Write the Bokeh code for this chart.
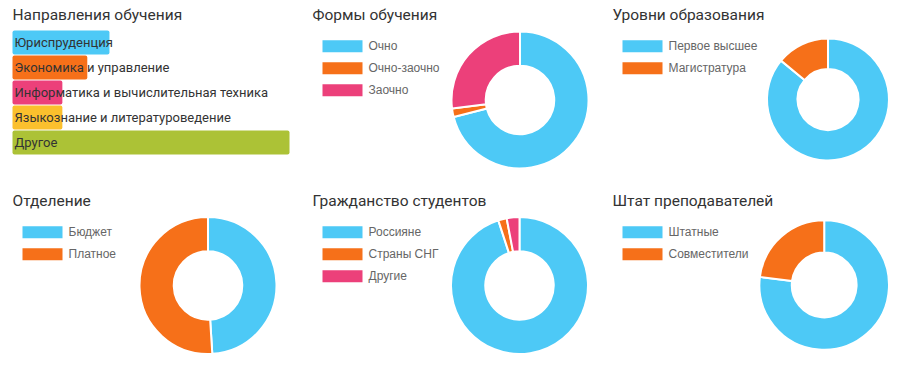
import math
from bokeh.plotting import figure
from bokeh.models import Range1d
from bokeh.layouts import column, row
from bokeh.embed import file_html
from bokeh.resources import INLINE
from bokeh.core.properties import value

BLUE = "#4DC9F6"
ORANGE = "#F67019"
PINK = "#EC407A"
YELLOW = "#FBC02D"
GREEN = "#ACC236"

# ---- data ----
dir_labels = ["Юриспруденция", "Экономика и управление",
              "Информатика и вычислительная техника",
              "Языкознание и литературоведение", "Другое"]
dir_values = [35, 27, 18, 18, 100]
dir_colors = [BLUE, ORANGE, PINK, YELLOW, GREEN]

forms_labels = ["Очно", "Очно-заочно", "Заочно"]
forms_values = [71, 2, 27]

levels_labels = ["Первое высшее", "Магистратура"]
levels_values = [86, 14]

dept_labels = ["Бюджет", "Платное"]
dept_values = [49, 51]

cit_labels = ["Россияне", "Страны СНГ", "Другие"]
cit_values = [95, 2, 3]

staff_labels = ["Штатные", "Совместители"]
staff_values = [77, 23]

pie_colors = [BLUE, ORANGE, PINK]

TITLE_FONT = value("Roboto")
TEXT_FONT = value("Liberation Sans")
TITLE_SIZE = "15.5px"


def base_fig(w, h, xr, yr):
    p = figure(width=w, height=h, x_range=xr, y_range=yr,
               output_backend="svg", toolbar_location=None,
               min_border=0, x_axis_location=None, y_axis_location=None,
               outline_line_color=None, tools="")
    p.grid.visible = False
    p.background_fill_color = "white"
    p.border_fill_color = "white"
    return p


def bar_panel(w, h, ox, oy, title_mid):
    scale = 2.77
    x0 = 4 + ox
    pitch = 25
    first = 34 + oy
    p = base_fig(w, h, Range1d(-x0 / scale, (w - x0) / scale),
                 Range1d((h - first) / pitch, -first / pitch))
    idx = list(range(len(dir_values)))
    p.hbar(y=idx, left=0, right=dir_values, height=24 / pitch,
           fill_color=dir_colors, line_color=None, border_radius=2)
    p.text(x=[0] * len(idx), y=idx, text=dir_labels, x_offset=2,
           text_baseline="middle", text_font=TITLE_FONT,
           text_font_size="13px", text_color="#333333")
    p.text(x=[0], y=[(title_mid + oy - first) / pitch], text=["Направления обучения"],
           text_baseline="middle", text_font=TITLE_FONT,
           text_font_size=TITLE_SIZE, text_color="#333333")
    return p


def donut_panel(w, h, ox, oy, title, labels, values, cx, cy_top, r,
                title_mid, leg_top):
    p = base_fig(w, h, Range1d(-ox, w - ox), Range1d(0, h))
    total = float(sum(values))
    starts, ends = [], []
    acc = 0.0
    for v in values:
        starts.append(math.pi / 2 - 2 * math.pi * acc / total)
        acc += v
        ends.append(math.pi / 2 - 2 * math.pi * acc / total)
    n = len(values)
    top = lambda t: h - (t + oy)
    p.annular_wedge(x=[cx] * n, y=[top(cy_top)] * n, inner_radius=(r + 1) * 0.5,
                    outer_radius=r + 1, start_angle=starts, end_angle=ends,
                    direction="clock", fill_color=pie_colors[:n],
                    line_color="white", line_width=2)
    ys = [top(leg_top + 22 * i) for i in range(n)]
    p.rect(x=[34] * n, y=ys, width=40, height=12, fill_color=pie_colors[:n],
           line_color=None)
    p.text(x=[60] * n, y=ys, text=labels, text_baseline="middle",
           text_font=TEXT_FONT, text_font_size="12px", text_color="#666666")
    p.text(x=[4], y=[top(title_mid)], text=[title], text_baseline="middle",
           text_font=TITLE_FONT, text_font_size=TITLE_SIZE, text_color="#333333")
    return p


# panel boxes in the window: columns start at x 0 / 308 / 608, rows at y 0 / 193
H1, H2 = 193, 172
W1, W2, W3 = 308, 300, 297

TOP_TITLE = 6.5
BOT_TITLE = 7.5

p1 = bar_panel(W1, H1, 8, 8, TOP_TITLE)
p2 = donut_panel(W2, H1, 0, 8, "Формы обучения", forms_labels, forms_values,
                 211.5, 91.5, 67.5, TOP_TITLE, 37.8)
p3 = donut_panel(W3, H1, 0, 8, "Уровни образования", levels_labels, levels_values,
                 219.5, 91, 60, TOP_TITLE, 37.8)
p4 = donut_panel(W1, H2, 8, 0, "Отделение", dept_labels, dept_values,
                 199.5, 92, 67.5, BOT_TITLE, 38.7)
p5 = donut_panel(W2, H2, 0, 0, "Гражданство студентов", cit_labels, cit_values,
                 211, 92, 67.5, BOT_TITLE, 38.7)
p6 = donut_panel(W3, H2, 0, 0, "Штат преподавателей", staff_labels, staff_values,
                 215.7, 91.5, 63.8, BOT_TITLE, 38.7)

layout = column(row(p1, p2, p3), row(p4, p5, p6))
open("out.html", "w").write(file_html(layout, INLINE))
